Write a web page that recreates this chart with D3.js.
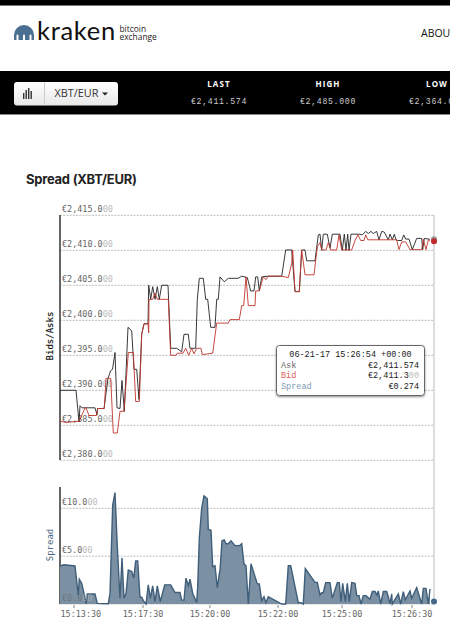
<!DOCTYPE html>
<html><head><meta charset="utf-8">
<script src="https://cdn.jsdelivr.net/npm/d3@7"></script>
<style>html,body{margin:0;padding:0;background:#fff;overflow:hidden}svg{display:block}</style>
</head><body><div id="c"></div>
<script>
const askSample=[0,16,19,20,22,35,37,37.5,44,48,50.7,52.5,55,57,60,62,64.3,68,71.7,74,76.7,79,81.7,84,88,88.7,90.7,92.7,95,97.3,99.3,101.7,108,110.7,116.7,121.7,124,128.3,130,135.7,137.3,139.3,143.3,145.7,147.7,150.7,155,156.7,158.3,160,164.3,168.3,178,181.7,187.3,190.7,194,195.7,197.7,199.3,201.7,208,221.7,225.7,231.7,235,239.3,241.7,245,246.7,255,258.3,260,261.7,263.3,267.3,270,272.3,280,282.3,284.3,286,287.7,289,291,300,302.3,305.7,308.3,311,313.3,316.7,319,321.7,324.3,328.3,330,332.3,334.3,336,337.7,341.7,343.7,345.7,349,352.3,356.7,361.7,362.7,364.3,370];
const askPrice=[2390,2390,2385.5,2387.8,2387.5,2387.5,2386.5,2387.4,2387.4,2391.7,2392.8,2393,2395.4,2387.5,2387.4,2391.4,2387,2399,2398.5,2393,2393,2388.7,2398,2399.5,2399.5,2405,2403,2404.8,2403,2404.8,2403,2405,2405,2396,2396,2395.5,2398,2398,2396,2396,2403,2406,2406,2403,2403,2399,2399,2403,2403,2406.2,2405.5,2406,2406,2406.3,2406.1,2404.2,2404.2,2406.2,2406.2,2404.2,2406.2,2406.3,2406.3,2410.05,2410.05,2404.1,2404.1,2410.05,2410.05,2408.5,2408.5,2412.2,2412.3,2410,2412.3,2412.3,2410.3,2412.3,2412.3,2410,2412.3,2410,2412.3,2410,2412.3,2412.3,2412.2,2412.7,2412.4,2412.7,2412.4,2412.7,2411.5,2412.7,2412.6,2411.5,2412.3,2411.5,2412.3,2411.5,2411.4,2411.4,2412.2,2411.6,2411.6,2410.1,2411.7,2411.7,2410.1,2411.7,2411.574];
const bidSample=[0,6,19.3,25,26,29,36.7,37.7,44.3,46,50.7,53.3,57.3,60,64,68.3,73.3,75.7,79.3,81.7,84,88,88.7,89,92.7,95,97.3,108.3,110.7,116,117.3,123,125.7,128.7,131.7,134,136.7,141,142.3,152.7,156.7,168.3,170,179.3,181.7,183.7,186,188.3,195,195.7,199.3,203.3,206,208,221.7,228.3,231.7,232.7,235,239.3,241.7,245,254,257.3,260,261.7,266,268.3,270.7,276.7,279,281.7,291.7,295,298,300.7,304,305.7,307.7,336.7,339,341.7,345.7,350,361.7,363.3,366,368.3,370];
const bidPrice=[2385.6,2385.4,2385.6,2387.5,2387.5,2386.4,2386.4,2387.4,2387.4,2391.7,2391.7,2383.9,2383.9,2387,2387,2395.4,2395.4,2388.4,2388.4,2398,2399.5,2399.5,2398.2,2403,2403,2403.9,2403,2403,2395,2395,2395.3,2395.3,2396,2395,2396,2395.2,2396,2396,2395.1,2395.3,2399.6,2399.6,2400.1,2400.1,2402.1,2402.1,2406.2,2402.1,2402.1,2404.2,2404.2,2406.2,2405.8,2406.3,2406.3,2406.1,2408.1,2410.05,2404.1,2404.1,2410.05,2406.5,2406.5,2410.5,2411.1,2410.05,2410.05,2411.1,2410.05,2410.05,2412.2,2410.05,2410.05,2411.4,2412.2,2411.4,2411.4,2412.2,2411.5,2411.5,2410.1,2411.2,2411.2,2410.1,2410.1,2411.6,2410.1,2411.5,2411.3];
const spreadSample=[0,4,15,18.3,19.3,21.7,25,26,27.3,35,37.3,48.3,50,52.7,55,57.3,60,62,64,66,68.3,71.7,73.7,75.7,77.7,80,81.7,83.3,86,88.3,90.3,92.7,95,97.3,100.3,104.7,110.7,115,120,121.7,124,126,128.3,130,132.7,136.7,137.7,139.3,141.7,144,147.3,148.3,151,152.7,155,157.3,159.7,160,162,164.3,166,168.3,171,175,179.7,181.7,184,186,188.3,191,197.3,199.3,201.7,204,206,208.3,221.7,225.7,228.3,230.7,232.7,238.3,241,243.3,245.3,255,257.3,260,261.7,263.3,265.7,270,272.3,277.3,279.3,281,282.7,285.3,287.3,289.3,291.7,295,296.7,299,301,303.3,306,310,312.3,315,317,318.3,320.7,323.3,326.7,328.3,330,331.7,332.3,338.3,340.7,343.3,345.3,350,351.7,356.7,361.7,363.3,366,368.3,370];
const spreadValue=[3.97,4.1,3.97,0.94,2.58,2.16,0.6,0,1.05,1.05,0.07,0.03,1.1,10.35,11.64,6,0.6,4.8,0.6,1.1,3.55,3.4,2.7,4.5,4.5,0.7,0.7,0.35,0,2,0.6,1.9,0.25,1.9,0.25,2,2,1.2,1.2,0.4,0.4,2.7,1.9,2.6,1.1,0.15,1.8,6.9,10,11.3,11,7.8,7.7,3.9,4,1.7,3.4,3.5,6.6,6.7,6.3,6.3,6.6,6.1,6.1,6.3,4.2,4,0,4.2,2.1,2.1,0.35,0.77,0.14,0.77,0,0,4,4,3,0.14,0.14,0,3.7,2.26,2.26,0.94,1.18,1.18,2.23,2.23,0.6,2.23,2.23,0.25,2.16,0.25,2.16,0.25,2.23,2.16,0.87,0.87,0,0.87,0.87,0.5,1.3,1.3,0.94,1.36,0,1.3,1.3,0.77,0,1.05,0,1.05,0,1.3,0.43,1.36,0.6,1.7,0,1.63,1.63,0,1.57,0.43,0];
const priceTicks=[2415,2410,2405,2400,2395,2390,2385,2380];
const spreadTicks=[10,5,0];
const timeTickSamples=[14,83,150,218,282,352];
const timeTickLabels=["15:13:30","15:17:30","15:20:00","15:22:00","15:25:00","15:26:30"];
const lastAsk=2411.574, lastBid=2411.3, lastSpread=0.274;
const tipRows=[["Ask","€2,411.574",""],["Bid","€2,411.3","00"],["Spread","€0.274",""]];
const tipHead="06-21-17 15:26:54 +00:00";
const statLabels=["LAST","HIGH","LOW"], statValues=["€2,411.574","€2,485.000","€2,364.000"];

const svg=d3.select("#c").append("svg").attr("width",450).attr("height",625);
const defs=svg.append("defs");
const f=defs.append("filter").attr("id","sh").attr("x","-10%").attr("y","-10%").attr("width","120%").attr("height","130%");
f.append("feDropShadow").attr("dx",0).attr("dy",1).attr("stdDeviation",1).attr("flood-color","#000").attr("flood-opacity",.45);
const g0=defs.append("linearGradient").attr("id","btn").attr("x1",0).attr("x2",0).attr("y1",0).attr("y2",1);
g0.append("stop").attr("offset",0).attr("stop-color","#fff");g0.append("stop").attr("offset",1).attr("stop-color","#e8e8e8");

const sans="'Open Sans',sans-serif", mono="'DejaVu Sans Mono',monospace", lib="'Liberation Mono',monospace";
// header
svg.append("rect").attr("width",450).attr("height",5).attr("fill","#000");
svg.append("rect").attr("y",5).attr("width",450).attr("height",1).attr("fill","#777");
const dome=svg.append("g").attr("fill","#4a6f91");
dome.append("path").attr("d","M14 40V35A10 10 0 0 1 34 35V40H31.5V35.5A1 1 0 0 0 29.5 35.5V40H25V35.5A1 1 0 0 0 23 35.5V40H18.5V35.5A1 1 0 0 0 16.5 35.5V40Z");
svg.append("text").attr("x",37).attr("y",40).attr("font-family","Lato,sans-serif").attr("font-size",25.5).attr("letter-spacing",.7).attr("fill","#111").text("kraken");
svg.append("text").attr("x",119.5).attr("y",32).attr("font-family",sans).attr("font-size",8.4).attr("fill","#222").text("bitcoin");
svg.append("text").attr("x",119.5).attr("y",40).attr("font-family",sans).attr("font-size",8.4).attr("fill","#222").text("exchange");
svg.append("text").attr("x",421).attr("y",37).attr("font-family",sans).attr("font-size",10.5).attr("fill","#111").text("ABOUT");
svg.append("rect").attr("y",71).attr("width",450).attr("height",43).attr("fill","#000");
svg.append("rect").attr("y",114).attr("width",450).attr("height",1).attr("fill","#888");
svg.append("rect").attr("x",14).attr("y",82).attr("width",104).attr("height",23.5).attr("rx",3).attr("fill","url(#btn)");
svg.append("rect").attr("x",44).attr("y",82).attr("width",1).attr("height",23.5).attr("fill","#ccc");
svg.append("g").attr("fill","#333").selectAll("rect").data([[23,6],[25.5,9],[28,11],[30.5,8]]).join("rect")
  .attr("x",d=>d[0]).attr("width",1.4).attr("y",d=>99-d[1]).attr("height",d=>d[1]);
svg.append("text").attr("x",54.5).attr("y",97).attr("font-family",sans).attr("font-size",10.9).attr("fill","#333").text("XBT/EUR");
svg.append("path").attr("d","M102 92.5H108L105 95.5Z").attr("fill","#222");
const statX=[219,328,437];
statLabels.forEach((s,i)=>{
  svg.append("text").attr("x",statX[i]).attr("y",87).attr("text-anchor","middle").attr("font-family",sans).attr("font-size",8).attr("font-weight",700).attr("letter-spacing",1.1).attr("fill","#fff").text(s);
  svg.append("text").attr("x",statX[i]).attr("y",104).attr("text-anchor","middle").attr("font-family",lib).attr("font-size",8.2).attr("letter-spacing",.7).attr("fill","#ccc").text(statValues[i]);
});
svg.append("text").attr("x",26).attr("y",184).attr("font-family","Inter,sans-serif").attr("font-size",13).attr("font-weight",700).attr("letter-spacing",-.25).attr("fill","#222").text("Spread (XBT/EUR)");

// scales
const x=d3.scaleLinear().domain([0,374]).range([60,434]);
const yP=d3.scaleLinear().domain([2380,2415]).range([460.3,215.3]);
const yS=d3.scaleLinear().domain([0,10]).range([604,508.3]);

const fmtP=d3.format(",.3f");
function priceLabel(g,v,y,op){
  const s="€"+fmtP(v), head=s.slice(0,s.length-2), tail=s.slice(-2);
  const t=g.append("text").attr("x",62).attr("y",y).attr("font-family",mono).attr("font-size",8.45).attr("fill","#666").attr("opacity",op||1);
  t.append("tspan").text(head);t.append("tspan").attr("fill","#bbb").text(tail);
}
// axes and grid
const grid=svg.append("g");
priceTicks.forEach(v=>{
  grid.append("line").attr("x1",60).attr("x2",434).attr("y1",yP(v)).attr("y2",yP(v)).attr("stroke","#bbb").attr("stroke-dasharray","2,1.2");
  priceLabel(grid,v,yP(v)-3.5);
});
spreadTicks.forEach(v=>{
  grid.append("line").attr("x1",60).attr("x2",434).attr("y1",yS(v)).attr("y2",yS(v)).attr("stroke","#bbb").attr("stroke-dasharray","2,1.2");
  if(v!==0)priceLabel(grid,v,yS(v)-3.5);
});
svg.append("line").attr("x1",434).attr("x2",434).attr("y1",215).attr("y2",604).attr("stroke","#ddd").attr("stroke-width",2);
svg.append("line").attr("x1",60).attr("x2",60).attr("y1",215).attr("y2",460).attr("stroke","#666").attr("stroke-width",2);
svg.append("line").attr("x1",60).attr("x2",60).attr("y1",487).attr("y2",604).attr("stroke","#666").attr("stroke-width",2);

// spread area
const spreadData=spreadSample.map((s,i)=>[s,spreadValue[i]]);
svg.append("path").datum(spreadData).attr("fill","#7b90a2")
  .attr("d",d3.area().x(d=>x(d[0])).y0(yS(0)).y1(d=>yS(d[1])));
svg.append("path").datum(spreadData).attr("fill","none").attr("stroke","#3f5e7a").attr("stroke-width",1.4)
  .attr("d",d3.line().x(d=>x(d[0])).y(d=>yS(d[1])));
priceLabel(svg,0,yS(0)-3.5,.6);

// price lines
const line=d3.line().x(d=>x(d[0])).y(d=>yP(d[1]));
svg.append("path").datum(askSample.map((s,i)=>[s,askPrice[i]])).attr("fill","none").attr("stroke","#222").attr("stroke-width",.9).attr("d",line);
svg.append("path").datum(bidSample.map((s,i)=>[s,bidPrice[i]])).attr("fill","none").attr("stroke","#c0342c").attr("stroke-width",.9).attr("d",line);
svg.append("circle").attr("cx",x(374)).attr("cy",yP(lastAsk)).attr("r",3).attr("fill","#999");
svg.append("circle").attr("cx",x(374)).attr("cy",yP(lastBid)).attr("r",3).attr("fill","#c0282a");
svg.append("circle").attr("cx",x(374)).attr("cy",yS(lastSpread)).attr("r",3).attr("fill","#44688a");

// x ticks
timeTickSamples.forEach((s,i)=>{
  svg.append("line").attr("x1",x(s)).attr("x2",x(s)).attr("y1",605).attr("y2",608).attr("stroke","#888");
  const first=i===0;
  svg.append("text").attr("x",first?60.5:x(s)).attr("y",616.5).attr("text-anchor",first?"start":"middle").attr("font-family",mono).attr("font-size",8.45).attr("fill","#666").text(timeTickLabels[i]);
});
// axis titles
svg.append("text").attr("transform","translate(52.5,336) rotate(-90)").attr("text-anchor","middle").attr("font-family",mono).attr("font-size",9).attr("stroke","#111").attr("stroke-width",.2).attr("fill","#111").text("Bids/Asks");
svg.append("text").attr("transform","translate(52.5,545) rotate(-90)").attr("text-anchor","middle").attr("font-family",mono).attr("font-size",9).attr("fill","#4a6a8a").text("Spread");

// tooltip
svg.append("rect").attr("x",276.5).attr("y",345.5).attr("width",148).attr("height",50).attr("rx",3).attr("fill","#fff").attr("stroke","#666").attr("filter","url(#sh)");
svg.append("text").attr("x",350.5).attr("y",357).attr("text-anchor","middle").attr("font-family",lib).attr("font-size",8.5).attr("fill","#222").text(tipHead);
const rowColors=["#666","#d9605a","#7d9ab5"];
tipRows.forEach((r,i)=>{
  const y=367.6+i*10.7;
  svg.append("text").attr("x",281).attr("y",y).attr("font-family",lib).attr("font-size",8.5).attr("fill",rowColors[i]).text(r[0]);
  const t=svg.append("text").attr("x",419).attr("y",y).attr("text-anchor","end").attr("font-family",lib).attr("font-size",8.5).attr("fill","#222");
  t.append("tspan").text(r[1]);
  if(r[2])t.append("tspan").attr("fill","#bbb").text(r[2]);
});
</script></body></html>
